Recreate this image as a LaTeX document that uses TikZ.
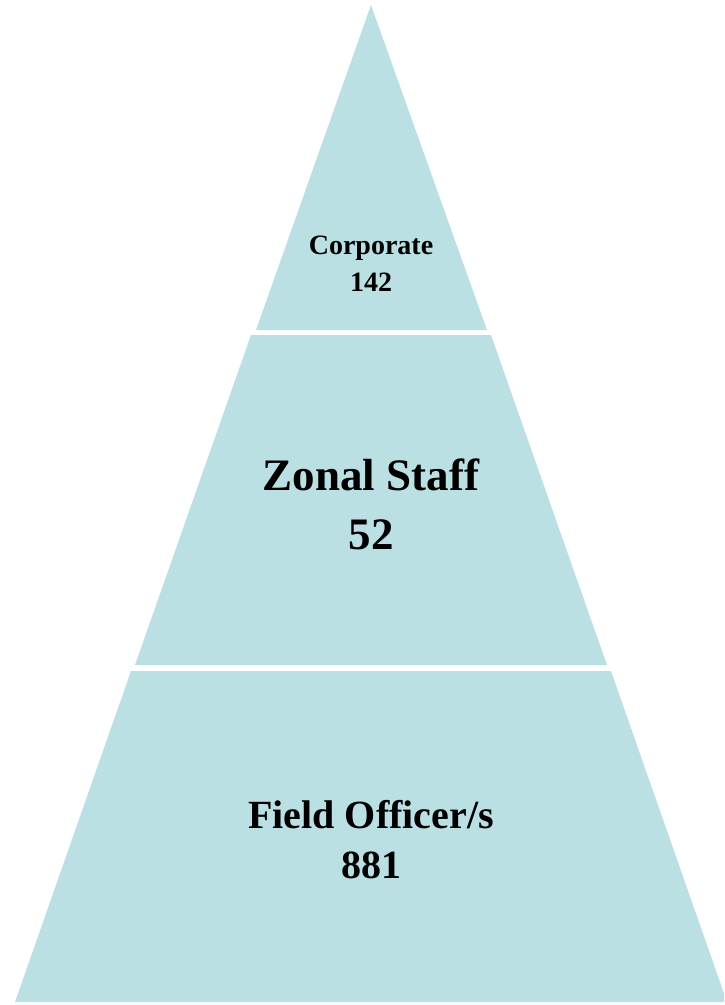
\documentclass[tikz,border=0pt]{standalone}
\usepackage{fontspec}
\setmainfont{Liberation Serif}
\usepackage{tikz}
\usetikzlibrary{calc}

\definecolor{tierblue}{RGB}{186,224,227}
\tikzset{tier/.style={fill=tierblue,draw=none},
	tierlabel/.style={align=center,font=\bfseries,text=black,inner sep=0pt}}

\begin{document}
\begin{tikzpicture}[x=1pt,y=-1pt]
	\useasboundingbox (0,0) rectangle (724,1005);
	\coordinate (A) at (371,5);
	\coordinate (B) at (256,330);
	\coordinate (C) at (487,330);
	\coordinate (D) at (251,335);
	\coordinate (E) at (491,335);
	\coordinate (F) at (135,665);
	\coordinate (G) at (607,665);
	\coordinate (H) at (131,671);
	\coordinate (I) at (611,671);
	\coordinate (J) at (15,1002);
	\coordinate (K) at (727,1002);
	\clip (0,0) rectangle (724,1005);
	\fill[tier] (A)--(C)--(B)--cycle;
	\fill[tier] (D)--(E)--(G)--(F)--cycle;
	\fill[tier] (H)--(I)--(K)--(J)--cycle;

	\node[tierlabel,font=\bfseries\fontsize{28}{37}\selectfont] (corp) at (371,264) {Corporate\\142};
	\node[tierlabel,font=\bfseries\fontsize{45}{59}\selectfont] (zonal) at (371,504) {Zonal Staff\\52};
	\node[tierlabel,font=\bfseries\fontsize{40}{50}\selectfont] (field) at (371,840) {Field Officer/s\\881};
\end{tikzpicture}
\end{document}
